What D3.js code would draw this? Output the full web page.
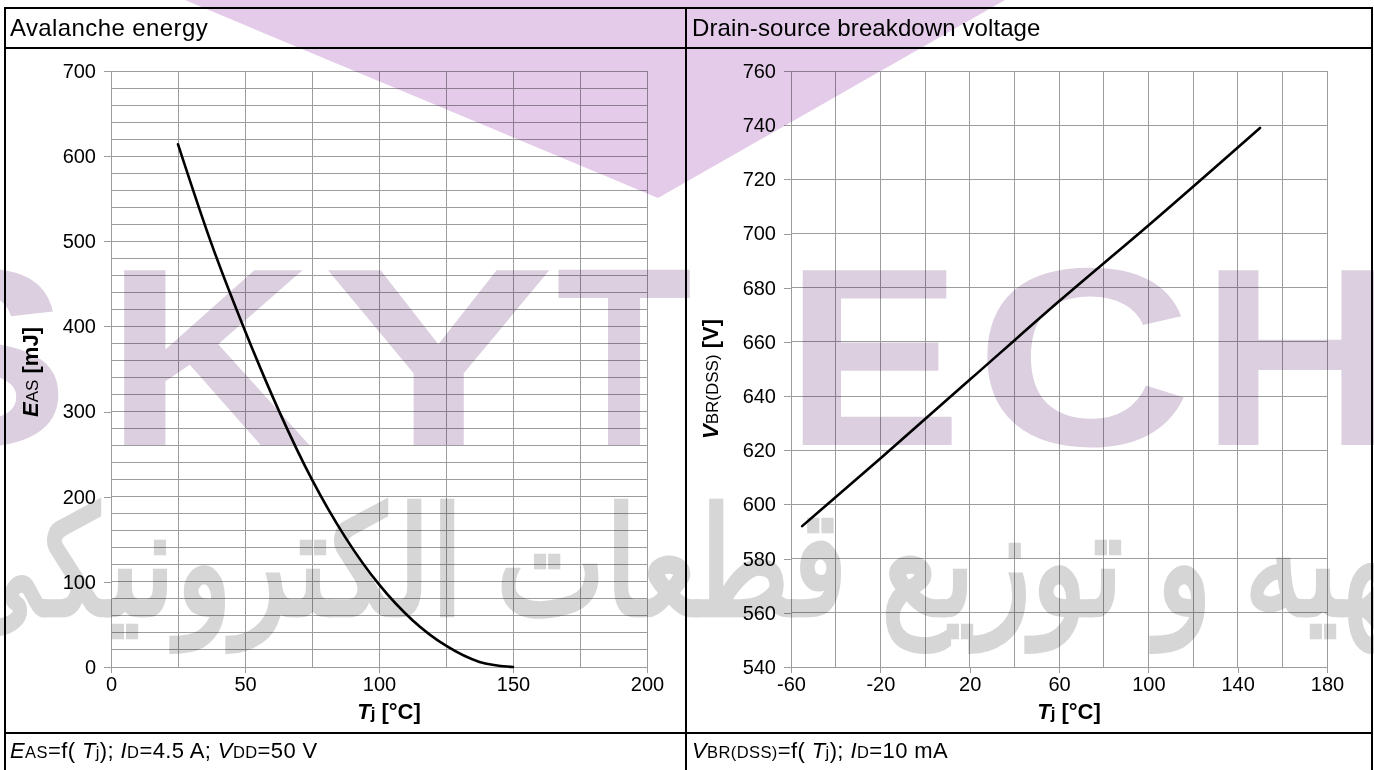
<!DOCTYPE html>
<html><head><meta charset="utf-8">
<script src="https://cdn.jsdelivr.net/npm/d3@7"></script>
<style>
body{margin:0;background:#fff}
svg{display:block}
text{font-family:"Liberation Sans",Arial,Helvetica,sans-serif;fill:#000}
</style></head>
<body>
<svg id="chart" width="1374" height="770"></svg>
<script>
// ---------- data ----------
const avalancheTemp   = [25, 37.5, 50, 62.5, 75, 87.5, 100, 112.5, 125, 137.5, 150];
const avalancheEnergy = [614, 497, 395, 302, 220, 152, 97, 55, 25, 6, 0];
const breakdownTemp    = [-55, -20, 20, 60, 100, 150];
const breakdownVoltage = [592, 617, 646, 675, 703, 739];

const leftXTicks  = [0, 50, 100, 150, 200];
const leftYTicks  = [0, 100, 200, 300, 400, 500, 600, 700];
const rightXTicks = [-60, -20, 20, 60, 100, 140, 180];
const rightYTicks = [540, 560, 580, 600, 620, 640, 660, 680, 700, 720, 740, 760];

const titles = ["Avalanche energy", "Drain-source breakdown voltage"];

// ---------- setup ----------
const svg = d3.select("#chart");
const GRID = "#9c9c9c";

// frame
const frame = svg.append("g").attr("fill","none").attr("stroke","#000").attr("stroke-width",2);
frame.append("rect").attr("x",5).attr("y",8).attr("width",1367).attr("height",770);
frame.append("line").attr("x1",5).attr("x2",1372).attr("y1",48).attr("y2",48);
frame.append("line").attr("x1",5).attr("x2",1372).attr("y1",733).attr("y2",733);
frame.append("line").attr("x1",686).attr("x2",686).attr("y1",8).attr("y2",780);

svg.append("text").attr("x",10).attr("y",36).attr("font-size",24).attr("letter-spacing",0.4).text(titles[0]);
svg.append("text").attr("x",692).attr("y",36).attr("font-size",24).attr("letter-spacing",0.1).text(titles[1]);

function panel(opt){
  const g = svg.append("g");
  const x = d3.scaleLinear().domain(opt.xDomain).range(opt.xRange);
  const y = d3.scaleLinear().domain(opt.yDomain).range([667, 71]);
  // grid
  const grid = g.append("g").attr("stroke",GRID).attr("stroke-width",1).attr("shape-rendering","crispEdges");
  grid.selectAll(".v").data(d3.range(opt.xDomain[0], opt.xDomain[1]+0.001, opt.xGrid)).join("line")
    .attr("x1",d=>x(d)).attr("x2",d=>x(d)).attr("y1",y.range()[1]).attr("y2",y.range()[0]);
  grid.selectAll(".h").data(d3.range(opt.yDomain[0], opt.yDomain[1]+0.001, opt.yGrid)).join("line")
    .attr("x1",x.range()[0]).attr("x2",x.range()[1]).attr("y1",d=>y(d)).attr("y2",d=>y(d));
  // axes
  const fmt = d=>String(d);
  const ax = g.append("g").attr("transform",`translate(0,${y.range()[0]})`)
    .call(d3.axisBottom(x).tickValues(opt.xTicks).tickSize(6).tickPadding(4).tickFormat(fmt));
  const ay = g.append("g").attr("transform",`translate(${x.range()[0]},0)`)
    .call(d3.axisLeft(y).tickValues(opt.yTicks).tickSize(7).tickPadding(8).tickFormat(fmt));
  [ax, ay].forEach(a=>{
    a.select(".domain").remove();
    a.selectAll(".tick line").attr("stroke",GRID).attr("shape-rendering","crispEdges");
    a.selectAll(".tick text").attr("font-size",20).attr("font-family","Liberation Sans, Arial, sans-serif").attr("fill","#000");
  });
  // line
  const line = d3.line().x(d=>x(d[0])).y(d=>y(d[1])).curve(d3.curveMonotoneX);
  g.append("path").datum(opt.data).attr("d",line).attr("fill","none")
    .attr("stroke","#000").attr("stroke-width",2.6).attr("stroke-linecap","round");
  // x title
  const xc = (x.range()[0]+x.range()[1])/2 + 10;
  const xt = g.append("text").attr("x",xc).attr("y",719).attr("text-anchor","middle")
    .attr("font-size",22).attr("font-weight","bold");
  xt.append("tspan").attr("font-style","italic").text("T");
  xt.append("tspan").attr("font-size",17).text("j");
  xt.append("tspan").text(" [°C]");
  // y title
  const yt = g.append("text").attr("transform",`translate(${opt.yTitleX},${opt.yTitleY}) rotate(-90)`)
    .attr("text-anchor","middle").attr("font-size",22).attr("font-weight","bold");
  yt.append("tspan").attr("font-style","italic").text(opt.yMain);
  yt.append("tspan").attr("font-size",17).attr("font-weight","normal").text(opt.ySub);
  yt.append("tspan").text(" " + opt.yUnit);
  return g;
}

panel({
  xDomain:[0,200], xRange:[111,647], yDomain:[0,700], xGrid:25, yGrid:20,
  xTicks:leftXTicks, yTicks:leftYTicks,
  data: avalancheTemp.map((t,i)=>[t, avalancheEnergy[i]]),
  yTitleX:38, yTitleY:372, yMain:"E", ySub:"AS", yUnit:"[mJ]"
});
panel({
  xDomain:[-60,180], xRange:[791,1327], yDomain:[540,760], xGrid:20, yGrid:20,
  xTicks:rightXTicks, yTicks:rightYTicks,
  data: breakdownTemp.map((t,i)=>[t, breakdownVoltage[i]]),
  yTitleX:718, yTitleY:379, yMain:"V", ySub:"BR(DSS)", yUnit:"[V]"
});

// footers
function footer(xpos, parts){
  const t = svg.append("text").attr("x",xpos).attr("y",758).attr("font-size",22).attr("letter-spacing",0.4);
  parts.forEach(p=>{
    const s = t.append("tspan").text(p[0]);
    if(p[1]==="i") s.attr("font-style","italic");
    if(p[1]==="s") s.attr("font-size",16.5);
  });
}
footer(10, [["E","i"],["AS","s"],["=f( ",""],["T","i"],["j","s"],["); ",""],["I","i"],["D","s"],["=4.5 A;  ",""],["V","i"],["DD","s"],["=50 V",""]]);
footer(692, [["V","i"],["BR(DSS)","s"],["=f( ",""],["T","i"],["j","s"],["); ",""],["I","i"],["D","s"],["=10 mA",""]]);

// ---------- watermark ----------
const wm = svg.append("g").style("mix-blend-mode","multiply").attr("pointer-events","none");
wm.append("polygon").attr("points","185,0 1005,0 658,198").attr("fill","#e4cbea");
const letters = [["S",-130,70],["K",105,312],["Y",322,555],["T",556,692],["E",785,962],["C",975,1192],["H",1200,1400]];
letters.forEach(l=>{
  wm.append("text").attr("x",l[1]).attr("y",445).attr("font-size",254).attr("font-weight","bold")
    .attr("textLength",l[2]-l[1]).attr("lengthAdjust","spacingAndGlyphs")
    .style("fill","#dccfe0").text(l[0]);
});
wm.append("text").attr("x",687).attr("y",615).attr("font-size",150).attr("font-weight","bold")
  .attr("font-family","DejaVu Sans, Noto Sans, sans-serif").attr("text-anchor","middle")
  .attr("textLength",1480).attr("lengthAdjust","spacingAndGlyphs")
  .style("fill","#d6d6d6").text("تهیه و توزیع قطعات الکترونیکی");
</script>
</body></html>
